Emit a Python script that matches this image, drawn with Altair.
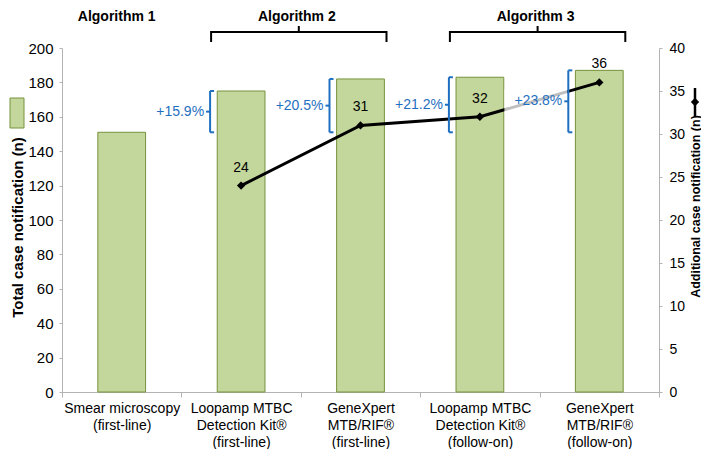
import altair as alt
import pandas as pd

# ---------------- data ----------------
categories = [
    "Smear microscopy|(first-line)",
    "Loopamp MTBC|Detection Kit®|(first-line)",
    "GeneXpert|MTB/RIF®|(first-line)",
    "Loopamp MTBC|Detection Kit®|(follow-on)",
    "GeneXpert|MTB/RIF®|(follow-on)",
]
total_cases = [151, 175, 182, 183, 187]
additional_cases = [24, 31, 32, 36]
increase_labels = ["+15.9%", "+20.5%", "+21.2%", "+23.8%"]
baseline_cases = 151
algorithm_names = ["Algorithm 1", "Algorithm 2", "Algorithm 3"]

GREEN = "#c3d69b"
OLIVE = "#76923c"
BLUE = "#1f6fc0"
GRAY = "#b3b3b3"

bars_df = pd.DataFrame({"cat": categories, "total": total_cases})
add_df = pd.DataFrame({
    "cat": categories[1:],
    "add": additional_cases,
    "pct": increase_labels,
    "total": total_cases[1:],
    "base": [baseline_cases] * 4,
})
add_df["mid"] = (add_df["base"] + add_df["total"]) / 2

alg1_df = pd.DataFrame({"name": [algorithm_names[0]], "cat": [categories[0]]})
alg23_df = pd.DataFrame({"name": algorithm_names[1:], "cat": [categories[1], categories[3]]})
brace_df = pd.DataFrame({"first": [categories[1], categories[3]],
                         "last": [categories[2], categories[4]]})
box_df = pd.DataFrame({"a": [categories[3]], "b": [categories[4]],
                       "mid": [add_df["mid"].iloc[3]]})
one_df = pd.DataFrame({"k": [0]})

# ---------------- scales ----------------
xscale = alt.Scale(domain=categories, paddingInner=0, paddingOuter=0)
left_scale = alt.Scale(domain=[0, 200], nice=False)
right_scale = alt.Scale(domain=[0, 40], nice=False)


def xenc(field="cat", **kw):
    return alt.X(f"{field}:N", sort=categories, title=None, **kw)


x_main = alt.X(
    "cat:N", sort=categories, scale=xscale, title=None,
    axis=alt.Axis(
        labelExpr="split(datum.label, '|')", labelAngle=0, labelFontSize=14,
        labelLineHeight=17, labelColor="black", labelPadding=4, labelLimit=300,
        tickBand="extent", tickSize=5, tickColor=GRAY, domainColor=GRAY,
        domainWidth=1,
    ),
)

# ---------------- left layer: bars ----------------
bars = alt.Chart(bars_df).mark_bar(
    fill=GREEN, stroke=OLIVE, strokeWidth=1, width=alt.RelativeBandSize(0.4)
).encode(
    x=x_main,
    y=alt.Y("total:Q", scale=left_scale,
            axis=alt.Axis(values=list(range(0, 201, 20)), grid=False,
                          domainColor=GRAY, tickColor=GRAY, tickSize=3,
                          labelFontSize=15, labelPadding=6, labelColor="black",
                          title="Total case notification (n)", titleFontSize=15,
                          titleFontWeight="bold", titleColor="black",
                          titleAngle=270, titleAlign="center",
                          titleBaseline="middle", titleX=-45, titleY=179)),
)

# ---------------- right layer: line ----------------
yr = alt.Y("add:Q", scale=right_scale,
           axis=alt.Axis(orient="right", values=list(range(0, 41, 5)), grid=False,
                         domainColor=GRAY, tickColor=GRAY, tickSize=3,
                         labelFontSize=14, labelPadding=7, labelColor="black",
                         title="Additional case notification (n)", titleFontSize=12.5,
                         titleFontWeight="bold", titleColor="black",
                         titleAngle=270, titleAlign="center",
                         titleBaseline="middle", titleX=36, titleY=158))
line = alt.Chart(add_df).mark_line(color="black", strokeWidth=3).encode(x=xenc(), y=yr)
pts = alt.Chart(add_df).mark_point(shape="diamond", filled=True, size=70,
                                   opacity=1, color="black").encode(x=xenc(), y=yr)
right = alt.layer(line, pts)

# ---------------- left layer: annotations ----------------
def ly(f):
    return alt.Y(f"{f}:Q", scale=left_scale, axis=None, title=None)


box = alt.Chart(box_df).mark_rule(color="white", strokeWidth=24, opacity=0.75,
                                  strokeCap="butt", xOffset=24.5, x2Offset=-32).encode(
    x=xenc("a"), x2=alt.X2("b"), y=ly("mid"))

nums = alt.Chart(add_df).mark_text(dy=-18, fontSize=14, color="black").encode(
    x=xenc(), y=alt.Y("add:Q", scale=right_scale, axis=None, title=None), text="add:Q")

br_v = alt.Chart(add_df).mark_rule(color=BLUE, strokeWidth=2, xOffset=-31).encode(
    x=xenc(), y=ly("base"), y2="total:Q")
br_t = alt.Chart(add_df).mark_tick(orient="horizontal", size=4, thickness=2,
                                   color=BLUE, opacity=1, xOffset=-29).encode(
    x=xenc(), y=ly("total"))
br_b = alt.Chart(add_df).mark_tick(orient="horizontal", size=4, thickness=2,
                                   color=BLUE, opacity=1, xOffset=-29).encode(
    x=xenc(), y=ly("base"))
br_m = alt.Chart(add_df).mark_tick(orient="horizontal", size=4, thickness=2,
                                   color=BLUE, opacity=1, xOffset=-33).encode(
    x=xenc(), y=ly("mid"))
br_lab = alt.Chart(add_df).mark_text(color=BLUE, fontSize=14, align="right",
                                     baseline="middle", xOffset=-37).encode(
    x=xenc(), y=ly("mid"), text="pct:N")

alg1 = alt.Chart(alg1_df).mark_text(fontSize=14, fontWeight="bold", color="black",
                                    baseline="middle", xOffset=-5).encode(
    x=xenc(), y=alt.value(-31), text="name:N")
alg23 = alt.Chart(alg23_df).mark_text(fontSize=14, fontWeight="bold", color="black",
                                      baseline="middle", xOffset=-4).encode(
    x=xenc(bandPosition=1), y=alt.value(-31), text="name:N")

brace_h = alt.Chart(brace_df).mark_rule(color="black", strokeWidth=2,
                                        xOffset=-30, x2Offset=26).encode(
    x=xenc("first"), x2=alt.X2("last"), y=alt.value(-16))
brace_l = alt.Chart(brace_df).mark_rule(color="black", strokeWidth=2, xOffset=-30).encode(
    x=xenc("first"), y=alt.value(-17), y2=alt.value(-6))
brace_r = alt.Chart(brace_df).mark_rule(color="black", strokeWidth=2, xOffset=26).encode(
    x=xenc("last"), y=alt.value(-17), y2=alt.value(-6))
brace_m = alt.Chart(brace_df).mark_rule(color="black", strokeWidth=2, xOffset=-2).encode(
    x=xenc("first", bandPosition=1), y=alt.value(-22), y2=alt.value(-16))

leg_bar = alt.Chart(one_df).mark_rect(fill=GREEN, stroke=OLIVE, strokeWidth=1).encode(
    x=alt.value(-52), x2=alt.value(-38), y=alt.value(50), y2=alt.value(80))
leg_rule = alt.Chart(one_df).mark_rule(color="black", strokeWidth=2.5).encode(
    x=alt.value(633), y=alt.value(40), y2=alt.value(69))
leg_pt = alt.Chart(one_df).mark_point(shape="diamond", filled=True, size=70,
                                      opacity=1, color="black").encode(
    x=alt.value(633), y=alt.value(54))

annot = alt.layer(box, br_v, br_t, br_b, br_m, br_lab, alg1, alg23,
                  brace_h, brace_l, brace_r, brace_m, leg_bar, leg_rule, leg_pt)
labels = alt.layer(nums)

chart = alt.layer(bars, right, annot, labels).resolve_scale(y="independent").properties(
    width=597, height=344,
    autosize=alt.AutoSizeParams(type="none"),
    padding={"left": 54, "top": 40, "right": 42, "bottom": 57},
).configure(font="Liberation Sans").configure_view(stroke="transparent")

chart.save("out.html", embed_options={"renderer": "svg", "actions": False})
